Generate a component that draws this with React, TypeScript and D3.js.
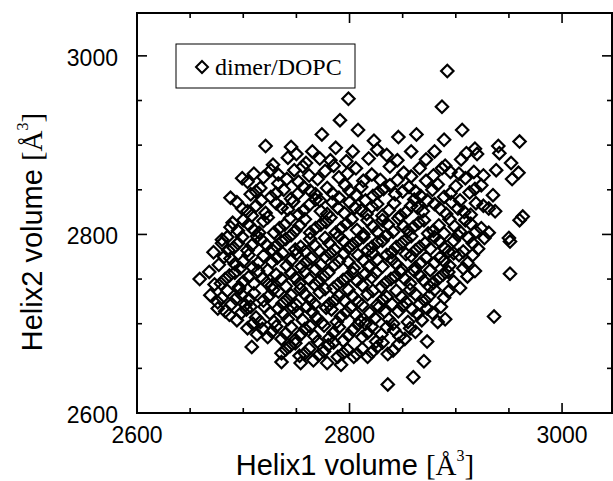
import React from "react";
import * as d3 from "d3";

// Helix volumes (Å^3) for the dimer in DOPC
const outliers: [number, number][] = [
  [2892, 2983], [2799, 2952], [2887, 2943], [2860, 2640], [2836, 2632], [2936, 2708],
  [2951, 2756], [2963, 2820], [2960, 2816], [2950, 2796], [2951, 2792],
];

const upperBand: [number, number][] = [
  [2791, 2928], [2808, 2917], [2846, 2909], [2906, 2917], [2889, 2906], [2960, 2904], [2721, 2899],
  [2745, 2898], [2787, 2897], [2940, 2899], [2918, 2896], [2774, 2912], [2823, 2905], [2863, 2912],
  [2742, 2886], [2759, 2880], [2782, 2883], [2941, 2891], [2920, 2890], [2952, 2880], [2803, 2893],
  [2818, 2885], [2835, 2889], [2858, 2893], [2872, 2884], [2765, 2893], [2728, 2878], [2905, 2884],
  [2890, 2877], [2750, 2890], [2772, 2885], [2797, 2882], [2826, 2895], [2845, 2883], [2880, 2893],
  [2910, 2891],
  [2699, 2863], [2704, 2859], [2719, 2864], [2959, 2869], [2953, 2862], [2733, 2867], [2748, 2872],
  [2762, 2866], [2777, 2871], [2790, 2864], [2806, 2874], [2821, 2867], [2838, 2876], [2851, 2869],
  [2866, 2874], [2879, 2866], [2895, 2870], [2909, 2863], [2926, 2866], [2938, 2872], [2752, 2859],
  [2785, 2877], [2813, 2860], [2845, 2861], [2872, 2860], [2710, 2868], [2726, 2872], [2741, 2862],
  [2756, 2876], [2770, 2862], [2798, 2868], [2829, 2861], [2858, 2865], [2887, 2874], [2903, 2868],
  [2917, 2870],
  [2707, 2845], [2716, 2852], [2726, 2842], [2738, 2850], [2745, 2840], [2757, 2853], [2768, 2845],
  [2779, 2852], [2790, 2841], [2800, 2849], [2811, 2853], [2822, 2843], [2832, 2851], [2843, 2845],
  [2856, 2853], [2867, 2843], [2878, 2850], [2889, 2842], [2900, 2854], [2913, 2847], [2924, 2855],
  [2935, 2844], [2688, 2841], [2733, 2857], [2772, 2838], [2815, 2838], [2861, 2839], [2904, 2838],
  [2712, 2848], [2731, 2846], [2751, 2845], [2763, 2849], [2784, 2846], [2796, 2855], [2806, 2844],
  [2827, 2847], [2838, 2855], [2850, 2848], [2862, 2848], [2883, 2856], [2895, 2846], [2918, 2851],
];

const middleBand: [number, number][] = [
  [2699, 2829], [2694, 2836], [2712, 2832], [2721, 2824], [2731, 2835], [2742, 2828], [2752, 2822],
  [2762, 2833], [2773, 2826], [2784, 2836], [2795, 2824], [2805, 2830], [2816, 2823], [2826, 2834],
  [2837, 2827], [2848, 2821], [2858, 2832], [2869, 2826], [2880, 2834], [2891, 2823], [2902, 2829],
  [2914, 2822], [2926, 2832], [2937, 2826], [2708, 2821], [2747, 2837], [2789, 2830], [2831, 2821],
  [2873, 2838], [2919, 2835], [2704, 2826], [2717, 2838], [2736, 2830], [2757, 2827], [2768, 2839],
  [2779, 2823], [2800, 2836], [2811, 2827], [2821, 2831], [2842, 2835], [2853, 2825], [2864, 2830],
  [2885, 2829], [2896, 2836], [2908, 2825], [2931, 2829],
  [2690, 2813], [2688, 2808], [2700, 2816], [2710, 2805], [2719, 2815], [2729, 2802], [2739, 2811],
  [2749, 2804], [2758, 2817], [2768, 2807], [2778, 2814], [2787, 2802], [2797, 2812], [2807, 2805],
  [2817, 2816], [2826, 2803], [2836, 2811], [2846, 2818], [2855, 2804], [2865, 2813], [2874, 2801],
  [2884, 2810], [2894, 2817], [2904, 2803], [2914, 2812], [2931, 2802], [2924, 2807], [2744, 2818],
  [2782, 2819], [2813, 2800], [2851, 2809], [2889, 2801], [2723, 2819], [2695, 2804], [2705, 2811],
  [2715, 2802], [2734, 2807], [2753, 2810], [2763, 2802], [2773, 2811], [2792, 2807], [2802, 2817],
  [2822, 2809], [2831, 2816], [2841, 2803], [2860, 2808], [2870, 2816], [2879, 2804], [2899, 2809],
  [2909, 2816], [2919, 2803],
  [2680, 2790], [2680, 2794], [2691, 2785], [2699, 2797], [2708, 2788], [2717, 2794], [2727, 2783],
  [2736, 2792], [2745, 2799], [2754, 2786], [2763, 2795], [2772, 2781], [2781, 2790], [2790, 2798],
  [2799, 2785], [2808, 2793], [2817, 2782], [2826, 2791], [2835, 2799], [2844, 2786], [2853, 2794],
  [2862, 2782], [2871, 2790], [2880, 2797], [2889, 2785], [2898, 2793], [2907, 2781], [2916, 2790],
  [2927, 2796], [2686, 2782], [2722, 2788], [2758, 2781], [2795, 2792], [2840, 2780], [2876, 2784],
  [2902, 2799], [2685, 2797], [2695, 2790], [2704, 2782], [2713, 2798], [2731, 2787], [2740, 2795],
  [2749, 2783], [2767, 2788], [2777, 2796], [2786, 2783], [2803, 2789], [2813, 2797], [2821, 2786],
  [2831, 2793], [2849, 2790], [2858, 2798], [2866, 2786], [2885, 2792], [2893, 2781], [2912, 2796],
  [2921, 2784],
  [2672, 2780], [2677, 2766], [2688, 2773], [2697, 2762], [2705, 2777], [2714, 2768], [2723, 2760],
  [2732, 2774], [2741, 2765], [2750, 2778], [2759, 2769], [2768, 2761], [2777, 2775], [2786, 2766],
  [2795, 2779], [2804, 2762], [2813, 2771], [2822, 2779], [2831, 2764], [2840, 2772], [2849, 2761],
  [2858, 2776], [2867, 2768], [2876, 2760], [2885, 2774], [2894, 2765], [2903, 2777], [2916, 2777],
  [2911, 2768], [2700, 2770], [2745, 2771], [2790, 2770], [2835, 2777], [2880, 2768], [2682, 2775],
  [2692, 2767], [2709, 2763], [2719, 2776], [2727, 2769], [2737, 2779], [2755, 2764], [2764, 2773],
  [2773, 2766], [2782, 2779], [2799, 2769], [2808, 2777], [2818, 2764], [2826, 2772], [2844, 2767],
  [2853, 2778], [2862, 2763], [2872, 2774], [2889, 2770], [2898, 2779], [2907, 2762],
];

const lowerBand: [number, number][] = [
  [2659, 2750], [2668, 2758], [2679, 2745], [2687, 2754], [2696, 2741], [2705, 2752], [2714, 2759],
  [2722, 2746], [2731, 2755], [2740, 2742], [2749, 2751], [2758, 2758], [2767, 2744], [2776, 2753],
  [2785, 2740], [2794, 2749], [2803, 2757], [2812, 2743], [2821, 2752], [2830, 2741], [2839, 2750],
  [2848, 2758], [2857, 2745], [2866, 2754], [2875, 2742], [2884, 2751], [2893, 2758], [2904, 2740],
  [2911, 2753], [2918, 2759], [2710, 2745], [2762, 2750], [2815, 2756], [2870, 2748], [2673, 2744],
  [2683, 2750], [2692, 2757], [2700, 2747], [2718, 2751], [2727, 2743], [2736, 2750], [2745, 2757],
  [2753, 2745], [2771, 2748], [2780, 2757], [2789, 2744], [2798, 2752], [2807, 2748], [2825, 2757],
  [2834, 2746], [2843, 2753], [2852, 2750], [2861, 2759], [2879, 2746], [2888, 2755], [2898, 2747],
  [2669, 2732], [2676, 2724], [2685, 2737], [2693, 2728], [2702, 2721], [2710, 2734], [2719, 2726],
  [2728, 2738], [2737, 2723], [2745, 2732], [2754, 2739], [2763, 2727], [2772, 2735], [2781, 2722],
  [2790, 2731], [2799, 2738], [2808, 2725], [2817, 2733], [2826, 2721], [2835, 2730], [2844, 2737],
  [2853, 2724], [2862, 2733], [2871, 2726], [2880, 2738], [2889, 2729], [2696, 2739], [2750, 2721],
  [2795, 2726], [2840, 2722], [2886, 2719], [2680, 2729], [2689, 2722], [2698, 2733], [2706, 2727],
  [2724, 2731], [2733, 2736], [2741, 2727], [2758, 2733], [2767, 2722], [2777, 2739], [2786, 2726],
  [2803, 2731], [2812, 2721], [2822, 2737], [2831, 2727], [2849, 2730], [2857, 2738], [2866, 2722],
  [2875, 2731], [2893, 2736],
  [2676, 2717], [2687, 2710], [2694, 2704], [2703, 2716], [2712, 2707], [2720, 2719], [2729, 2702],
  [2738, 2711], [2747, 2718], [2756, 2704], [2765, 2713], [2774, 2701], [2783, 2716], [2792, 2708],
  [2801, 2718], [2810, 2703], [2819, 2712], [2828, 2719], [2837, 2705], [2846, 2714], [2855, 2702],
  [2864, 2711], [2873, 2717], [2890, 2705], [2883, 2702], [2760, 2719], [2815, 2700], [2850, 2720],
  [2683, 2714], [2698, 2712], [2707, 2719], [2716, 2702], [2725, 2712], [2733, 2717], [2742, 2705],
  [2751, 2713], [2769, 2707], [2778, 2718], [2788, 2702], [2797, 2713], [2806, 2710], [2824, 2706],
  [2833, 2714], [2841, 2700], [2859, 2716], [2868, 2704], [2878, 2712],
  [2704, 2695], [2713, 2688], [2723, 2685], [2731, 2697], [2740, 2689], [2749, 2682], [2758, 2694],
  [2767, 2686], [2776, 2698], [2785, 2690], [2794, 2681], [2803, 2693], [2812, 2685], [2821, 2697],
  [2830, 2688], [2842, 2693], [2852, 2683], [2862, 2691], [2873, 2680], [2770, 2680], [2825, 2680],
  [2709, 2700], [2718, 2694], [2727, 2691], [2736, 2683], [2745, 2696], [2754, 2688], [2763, 2697],
  [2781, 2684], [2790, 2696], [2799, 2687], [2808, 2699], [2817, 2690], [2835, 2696], [2847, 2686],
  [2857, 2695],
  [2708, 2674], [2736, 2667], [2744, 2675], [2753, 2664], [2762, 2672], [2771, 2665], [2780, 2676],
  [2789, 2663], [2798, 2671], [2807, 2666], [2817, 2663], [2826, 2674], [2836, 2666], [2846, 2677],
  [2870, 2658], [2754, 2656], [2766, 2659], [2779, 2656], [2792, 2654], [2804, 2663], [2736, 2657],
  [2740, 2671], [2749, 2678], [2758, 2667], [2776, 2669], [2785, 2679], [2794, 2667], [2812, 2672],
  [2821, 2668], [2831, 2679], [2841, 2670],
];

const majorTicks = [2600, 2800, 3000];
const minorTicks = [2650, 2700, 2750, 2850, 2900, 2950];
const legendLabel = "dimer/DOPC";

const sans = "'Liberation Sans', Arial, Helvetica, sans-serif";
const serif = "'Liberation Serif', 'Times New Roman', Times, serif";

const diamondPath = (r: number) => `M0,${-r}L${r},0L0,${r}L${-r},0Z`;

export default function App() {
  const width = 613;
  const height = 481;
  const x = d3.scaleLinear().domain([2600, 3047]).range([137, 612]);
  const y = d3.scaleLinear().domain([2600, 3048]).range([413, 13]);
  const [x0, x1] = x.range();
  const [y0, y1] = y.range();

  const allPoints = [...outliers, ...upperBand, ...middleBand, ...lowerBand];

  const tickMarks = (vals: number[], len: number) =>
    vals.map(v => (
      <g key={`${v}-${len}`}>
        <line x1={x(v)} x2={x(v)} y1={y0} y2={y0 - len} />
        <line x1={x(v)} x2={x(v)} y1={y1} y2={y1 + len} />
        <line x1={x0} x2={x0 + len} y1={y(v)} y2={y(v)} />
        <line x1={x1} x2={x1 - len} y1={y(v)} y2={y(v)} />
      </g>
    ));

  return (
    <svg width={width} height={height} style={{ position: "absolute", left: 0, top: 0, background: "#fff" }}>
      <g stroke="#000" strokeWidth={1.6}>
        {tickMarks(majorTicks, 10)}
        {tickMarks(minorTicks, 5)}
      </g>
      <rect x={x0} y={y1} width={x1 - x0} height={y0 - y1} fill="none" stroke="#000" strokeWidth={2} />

      <g fill="none" stroke="#000" strokeWidth={2.2}>
        {allPoints.map(([a, b], i) => (
          <path key={i} d={diamondPath(6.2)} transform={`translate(${x(a)},${y(b)})`} />
        ))}
      </g>

      <g fontFamily={sans} fontSize={23} fill="#000">
        {majorTicks.map(v => (
          <text key={`x${v}`} x={x(v)} y={443} textAnchor="middle">{v}</text>
        ))}
        {majorTicks.map(v => (
          <text key={`y${v}`} x={118} y={y(v) + 10} textAnchor="end">{v}</text>
        ))}
      </g>

      <rect x={176} y={44} width={179} height={44} fill="#fff" stroke="#000" strokeWidth={1} />
      <path d={diamondPath(6)} transform="translate(202,67)" fill="none" stroke="#000" strokeWidth={2} />
      <text x={215} y={75} fontFamily={serif} fontSize={24} fill="#000">{legendLabel}</text>

      <text x={355} y={475} textAnchor="middle" fontSize={29} fill="#000">
        <tspan fontFamily={sans}>Helix1 volume </tspan>
        <tspan fontFamily={serif}>[Å</tspan>
        <tspan fontFamily={serif} fontSize={16} dy={-14}>3</tspan>
        <tspan fontFamily={serif} dy={14}>]</tspan>
      </text>
      <text transform="translate(42,232) rotate(-90)" textAnchor="middle" fontSize={29} fill="#000">
        <tspan fontFamily={sans}>Helix2 volume </tspan>
        <tspan fontFamily={serif}>[Å</tspan>
        <tspan fontFamily={serif} fontSize={16} dy={-14}>3</tspan>
        <tspan fontFamily={serif} dy={14}>]</tspan>
      </text>
    </svg>
  );
}
